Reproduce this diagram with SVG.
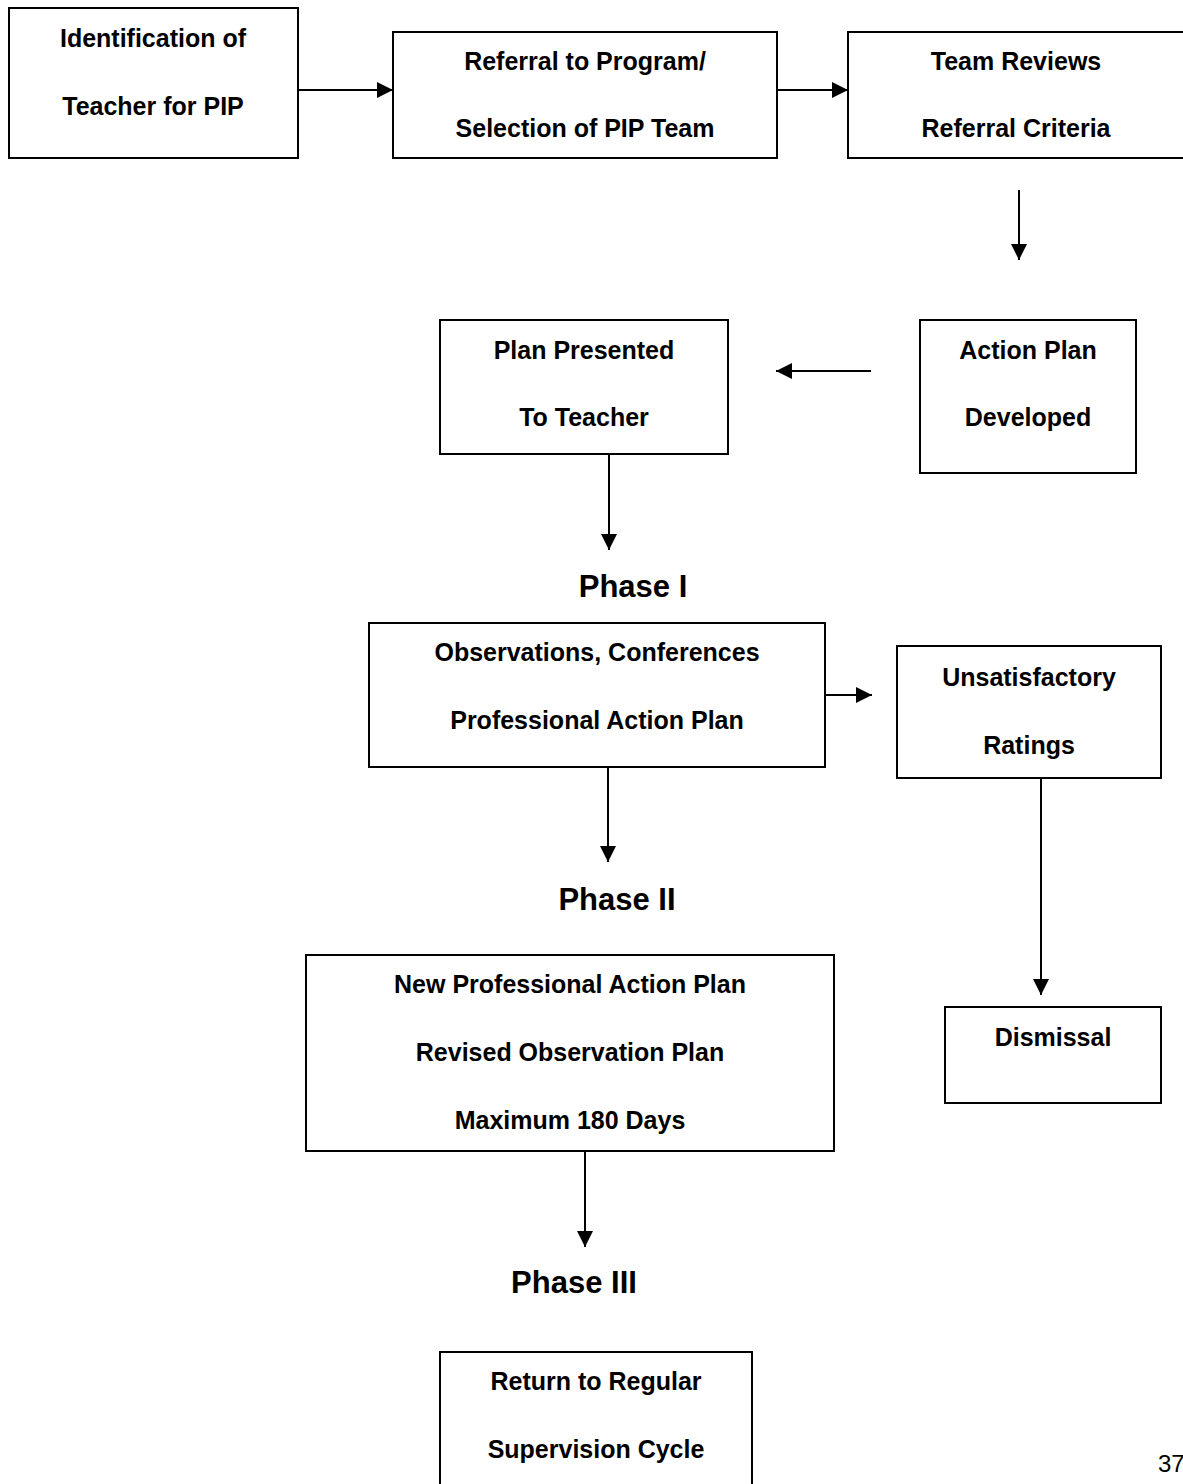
<svg xmlns="http://www.w3.org/2000/svg" width="1183" height="1484" viewBox="0 0 1183 1484">
<style>
.box{fill:#fff;stroke:#000;stroke-width:2}
.t{font-family:"Liberation Sans",Arial,sans-serif;font-weight:bold;font-size:25px;text-anchor:middle;fill:#000}
.ph{font-family:"Liberation Sans",Arial,sans-serif;font-weight:bold;font-size:31px;text-anchor:middle;fill:#000}
.c{stroke:#000;stroke-width:2;fill:none;marker-end:url(#ah)}
</style>
<defs>
<marker id="ah" markerUnits="userSpaceOnUse" markerWidth="17" markerHeight="16" refX="16" refY="8" orient="auto">
<path d="M0,0 L16,8 L0,16 Z" fill="#000"/>
</marker>
</defs>
<rect width="1183" height="1484" fill="#fff"/>
<g id="connectors">
<line class="c" x1="298" y1="90" x2="393" y2="90"/>
<line class="c" x1="777" y1="90" x2="848" y2="90"/>
<line class="c" x1="1019" y1="190" x2="1019" y2="260"/>
<line class="c" x1="871" y1="371" x2="776" y2="371"/>
<line class="c" x1="609" y1="454" x2="609" y2="550"/>
<line class="c" x1="825" y1="695" x2="872" y2="695"/>
<line class="c" x1="608" y1="767" x2="608" y2="862"/>
<line class="c" x1="1041" y1="778" x2="1041" y2="995"/>
<line class="c" x1="585" y1="1151" x2="585" y2="1247"/>
</g>
<g id="n1"><rect class="box" x="9" y="8" width="289" height="150"/>
<text class="t" x="153" y="47">Identification of</text><text class="t" x="153" y="115">Teacher for PIP</text></g>
<g id="n2"><rect class="box" x="393" y="32" width="384" height="126"/>
<text class="t" x="585" y="70">Referral to Program/</text><text class="t" x="585" y="137">Selection of PIP Team</text></g>
<g id="n3"><rect class="box" x="848" y="32" width="340" height="126"/>
<text class="t" x="1016" y="70">Team Reviews</text><text class="t" x="1016" y="137">Referral Criteria</text></g>
<g id="n4"><rect class="box" x="440" y="320" width="288" height="134"/>
<text class="t" x="584" y="359">Plan Presented</text><text class="t" x="584" y="426">To Teacher</text></g>
<g id="n5"><rect class="box" x="920" y="320" width="216" height="153"/>
<text class="t" x="1028" y="359">Action Plan</text><text class="t" x="1028" y="426">Developed</text></g>
<g id="phase1"><text class="ph" x="633" y="597">Phase I</text></g>
<g id="n6"><rect class="box" x="369" y="623" width="456" height="144"/>
<text class="t" x="597" y="661">Observations, Conferences</text><text class="t" x="597" y="729">Professional Action Plan</text></g>
<g id="n7"><rect class="box" x="897" y="646" width="264" height="132"/>
<text class="t" x="1029" y="686">Unsatisfactory</text><text class="t" x="1029" y="754">Ratings</text></g>
<g id="phase2"><text class="ph" x="617" y="910">Phase II</text></g>
<g id="n8"><rect class="box" x="306" y="955" width="528" height="196"/>
<text class="t" x="570" y="993">New Professional Action Plan</text><text class="t" x="570" y="1061">Revised Observation Plan</text><text class="t" x="570" y="1129">Maximum 180 Days</text></g>
<g id="n9"><rect class="box" x="945" y="1007" width="216" height="96"/>
<text class="t" x="1053" y="1046">Dismissal</text></g>
<g id="phase3"><text class="ph" x="574" y="1293">Phase III</text></g>
<g id="n10"><rect class="box" x="440" y="1352" width="312" height="140"/>
<text class="t" x="596" y="1390">Return to Regular</text><text class="t" x="596" y="1458">Supervision Cycle</text></g>
<text x="1158" y="1472" font-family="Liberation Sans, Arial, sans-serif" font-size="24" fill="#000">37</text>
</svg>
